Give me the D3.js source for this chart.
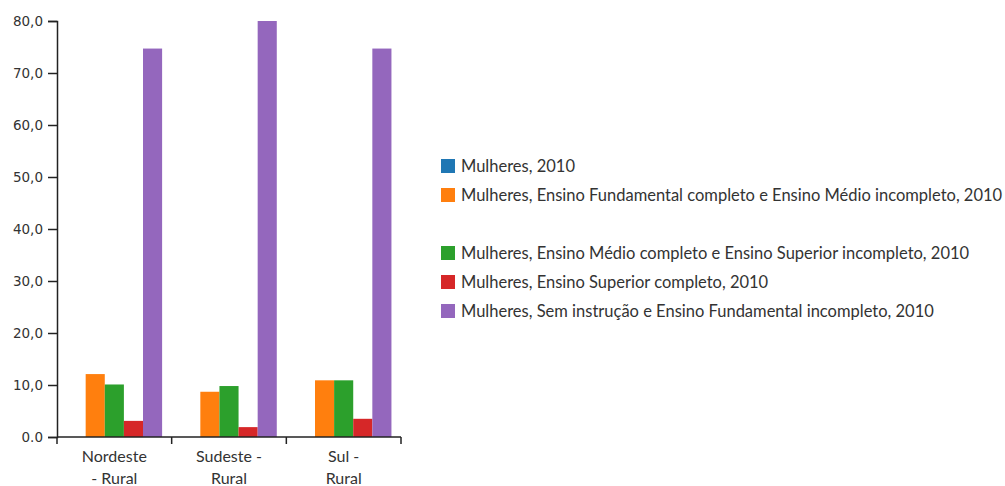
<!DOCTYPE html>
<html>
<head>
<meta charset="utf-8">
<script src="https://cdn.jsdelivr.net/npm/d3@7"></script>
<style>
  body { margin: 0; background: #fff; }
  text { font-family: Lato, "Open Sans", sans-serif; fill: #333; }
</style>
</head>
<body>
<script>
// data
var regions = ["Nordeste - Rural", "Sudeste - Rural", "Sul - Rural"]
var regionLines = [["Nordeste", "- Rural"], ["Sudeste -", "Rural"], ["Sul -", "Rural"]]
var seriesNames = [
  "Mulheres, 2010",
  "Mulheres, Ensino Fundamental completo e Ensino Médio incompleto, 2010",
  "Mulheres, Ensino Médio completo e Ensino Superior incompleto, 2010",
  "Mulheres, Ensino Superior completo, 2010",
  "Mulheres, Sem instrução e Ensino Fundamental incompleto, 2010"
]
var seriesColors = ["#1f77b4", "#ff7f0e", "#2ca02c", "#d62728", "#9467bd"]
var total = [null, null, null]
var fundamental = [12.1, 8.7, 10.9]
var medio = [10.1, 9.8, 10.9]
var superior = [3.1, 1.9, 3.5]
var semInstrucao = [74.7, 80.0, 74.7]
var yTicks = [0, 10, 20, 30, 40, 50, 60, 70, 80]

var seriesValues = [total, fundamental, medio, superior, semInstrucao]

var svg = d3.select("body").append("svg")
  .attr("width", 1005)
  .attr("height", 486)

var margin = {left: 57, top: 21, bottom: 437}

var y = d3.scaleLinear()
  .domain([0, 80])
  .range([margin.bottom, margin.top])

var x0 = d3.scaleBand()
  .domain(regions)
  .range([57, 401])

var x1 = d3.scaleBand()
  .domain(d3.range(seriesNames.length))
  .range([0, x0.bandwidth()])
  .paddingOuter(0.5)
  .paddingInner(0)

// bars
regions.forEach(function(r, i){
  var g = svg.append("g").attr("transform", "translate(" + x0(r) + ",0)")
  seriesValues.forEach(function(vals, s){
    if (vals[i] == null) return
    g.append("rect")
      .attr("x", x1(s))
      .attr("width", x1.bandwidth())
      .attr("y", y(vals[i]))
      .attr("height", y(0) - y(vals[i]))
      .style("fill", seriesColors[s])
  })
})

// y axis
var yAxis = d3.axisLeft(y)
  .tickValues(yTicks)
  .tickSizeOuter(0)
  .tickSize(9)
  .tickFormat(function(d){
    if (d == 0) return "0.0"
    return d3.format(".1f")(d).replace(".", ",")
  })

var ya = svg.append("g")
  .attr("transform", "translate(" + margin.left + ",0)")
  .call(yAxis)
ya.select(".domain").attr("stroke", "#222").attr("stroke-width", 1.5)
ya.selectAll(".tick line").attr("stroke", "#222").attr("stroke-width", 1.5)
ya.selectAll(".tick text")
  .style("font-family", "'DejaVu Sans', Verdana, sans-serif")
  .style("font-size", "13.5px")
  .attr("x", -14)

// x axis: ticks on band boundaries
var xg = svg.append("g").attr("transform", "translate(0," + margin.bottom + ")")
xg.append("line")
  .attr("x1", x0.range()[0]).attr("x2", x0.range()[1])
  .attr("stroke", "#222").attr("stroke-width", 1.5)
var bounds = regions.map(function(r){ return x0(r) }).concat([x0.range()[1]])
xg.selectAll(".bt").data(bounds).enter().append("line")
  .attr("x1", function(d){ return d }).attr("x2", function(d){ return d })
  .attr("y1", 0).attr("y2", 7)
  .attr("stroke", "#222").attr("stroke-width", 1.5)

regions.forEach(function(r, i){
  var t = xg.append("text")
    .attr("text-anchor", "middle")
    .style("font-size", "16px")
    .attr("x", x0(r) + x0.bandwidth() / 2)
    .attr("y", 25)
  regionLines[i].forEach(function(line, k){
    t.append("tspan")
      .attr("x", x0(r) + x0.bandwidth() / 2)
      .attr("dy", k == 0 ? 0 : 22)
      .text(line)
  })
})

// legend
var legendRows = [0, 1, 3, 4, 5]
var legend = svg.append("g").attr("transform", "translate(441,159)")
seriesNames.forEach(function(name, s){
  var gy = legendRows[s] * 29
  legend.append("rect")
    .attr("x", 0).attr("y", gy)
    .attr("width", 14).attr("height", 14)
    .style("fill", seriesColors[s])
  legend.append("text")
    .attr("x", 20).attr("y", gy + 13)
    .style("font-size", "16.5px")
    .text(name)
})
</script>
</body>
</html>
